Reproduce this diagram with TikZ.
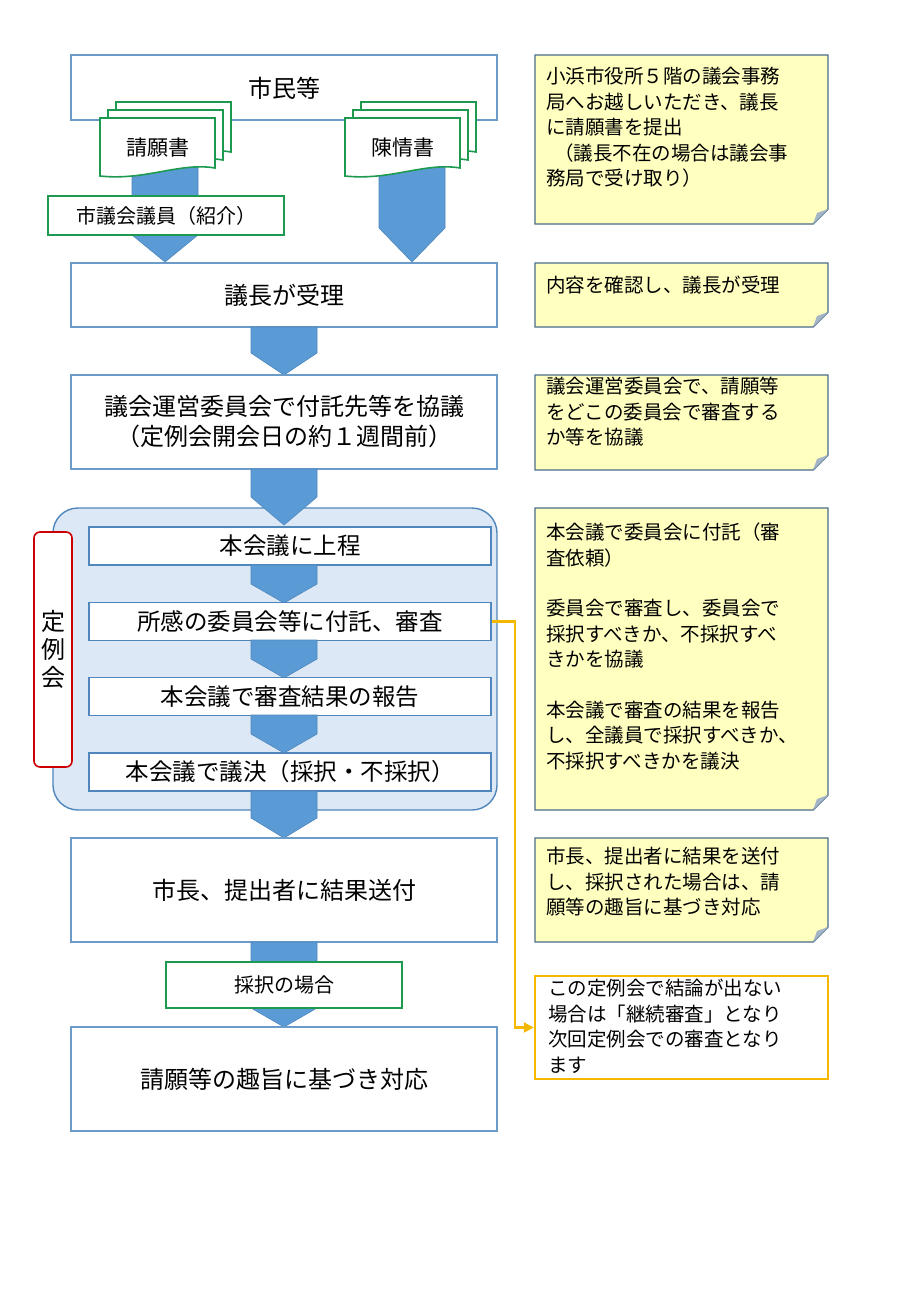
\documentclass[tikz,border=0pt]{standalone}
\usepackage{fontspec}
\setmainfont{Noto Sans CJK JP}
\usetikzlibrary{arrows.meta}
\definecolor{bb}{HTML}{6A9BC9}
\definecolor{af}{HTML}{5B9BD5}
\definecolor{ab}{HTML}{4F86BC}
\definecolor{gr}{HTML}{1E9A50}
\definecolor{nf}{HTML}{FFFFC0}
\definecolor{nb}{HTML}{4A6C8C}
\definecolor{rg}{HTML}{DCE8F5}
\definecolor{og}{HTML}{F5B800}
\newcommand\barrow[4]{\fill[af,draw=ab,line width=0.6pt] (#1-33,#2) -- (#1+33,#2) -- (#1+33,#3) -- (#1,#4) -- (#1-33,#3) -- cycle;}
\newcommand\docshape[4]{\draw[gr,line width=1.6pt,fill=white] (#1,#2) -- (#3,#2) -- (#3,#4-10) .. controls (#3-35,#4-16) and (#1+45,#4+3) .. (#1,#4-2) -- cycle;}
\newcommand\notebox[5]{\fill[nf,draw=nb,line width=1.4pt] (535,#1) -- (828,#1) -- (828,#2-15) -- (813,#2) -- (535,#2) -- cycle;
 \fill[nb!50] (828,#2-15) -- (813,#2) -- (817,#2-11) -- cycle;
 \node[notetxt,anchor=north west] (#4) at (546,#1+#3) {#5};}
\tikzset{
 mainbox/.style={draw=bb,line width=1.4pt,fill=white,minimum width=426pt,font=\fontsize{24}{32}\selectfont,align=center,inner sep=0pt},
 innerbox/.style={draw=ab,line width=1.6pt,fill=white,minimum width=402pt,minimum height=38pt,font=\fontsize{23.5}{28}\selectfont,inner sep=0pt},
 greenbox/.style={draw=gr,line width=1.6pt,fill=white,font=\fontsize{20}{24}\selectfont,inner sep=0pt},
 notetxt/.style={font=\fontsize{19.5}{25.5}\selectfont,align=left,inner sep=0pt},
}
\begin{document}
\begin{tikzpicture}[x=1pt,y=-1pt]
\useasboundingbox (0,0) rectangle (900,1300);
\node[mainbox,minimum height=65pt] (citizen) at (284,87.5) {};
\node[font=\fontsize{24}{28}\selectfont] (citizentxt) at (284,88) {市民等};
\barrow{165}{165}{235}{262}
\barrow{412}{165}{228}{262}
\docshape{116}{102}{231}{162}
\docshape{108}{110}{223}{170}
\docshape{100}{118}{215}{178}
\node[font=\fontsize{21}{24}\selectfont] (petition) at (158,148) {請願書};
\docshape{361}{102}{476}{162}
\docshape{353}{110}{468}{170}
\docshape{345}{118}{460}{178}
\node[font=\fontsize{21}{24}\selectfont] (chinjo) at (403,148) {陳情書};
\node[greenbox,minimum width=236pt,minimum height=39pt] (member) at (166,215.5) {市議会議員（紹介）};
\node[mainbox,minimum height=64pt] (chair) at (284,295) {議長が受理};
\barrow{284}{327}{353}{375}
\node[mainbox,minimum height=94pt] (steer) at (284,422) {議会運営委員会で付託先等を協議\\[-2pt]（定例会開会日の約１週間前）};
\draw[ab,line width=1.4pt,fill=rg,rounded corners=25pt] (53,508) rectangle (497,810);
\barrow{284}{469}{497}{525}
\node[innerbox] (s1) at (290,546) {本会議に上程};
\barrow{284}{565}{584}{603}
\node[innerbox] (s2) at (290,621.5) {所感の委員会等に付託、審査};
\barrow{284}{640}{659}{678}
\node[innerbox] (s3) at (290,696.5) {本会議で審査結果の報告};
\barrow{284}{715}{734}{753}
\node[innerbox] (s4) at (290,772) {本会議で議決（採択・不採択）};
\node[draw=red!80!black,line width=1.6pt,fill=white,rounded corners=6pt,minimum width=38pt,minimum height=235pt,align=center,font=\fontsize{24}{28}\selectfont] (teirei) at (53,649.5) {定\\例\\会};
\barrow{284}{791}{818}{838}
\node[mainbox,minimum height=104pt] (mayor) at (284,890) {市長、提出者に結果送付};
\barrow{284}{942}{1008}{1027}
\node[greenbox,minimum width=236pt,minimum height=46pt] (adopt) at (284,985) {採択の場合};
\node[mainbox,minimum height=104pt] (respond) at (284,1079) {請願等の趣旨に基づき対応};
\notebox{55}{224}{12}{n1}{小浜市役所５階の議会事務\\局へお越しいただき、議長\\に請願書を提出\\\hspace{0.4em}（議長不在の場合は議会事\\務局で受け取り）}
\notebox{263}{327}{13}{n2}{内容を確認し、議長が受理}
\notebox{375}{470}{2}{n3}{議会運営委員会で、請願等\\をどこの委員会で審査する\\か等を協議}
\notebox{508}{810}{15}{n4}{本会議で委員会に付託（審\\査依頼）\\[25pt]委員会で審査し、委員会で\\採択すべきか、不採択すべ\\きかを協議\\[25pt]本会議で審査の結果を報告\\し、全議員で採択すべきか、\\不採択すべきかを議決}
\notebox{838}{942}{9}{n5}{市長、提出者に結果を送付\\し、採択された場合は、請\\願等の趣旨に基づき対応}
\node[draw=og,line width=2.4pt,fill=white,minimum width=293pt,minimum height=103pt] (cont) at (681.5,1027.5) {};
\node[notetxt,anchor=north west] (conttxt) at (548,979) {この定例会で結論が出ない\\場合は「継続審査」となり\\次回定例会での審査となり\\ます};
\draw[og,line width=2.2pt,-{Triangle[length=10pt,width=10pt]}] (s2.east) -- (515,621.5) |- (cont.west);
\end{tikzpicture}
\end{document}
